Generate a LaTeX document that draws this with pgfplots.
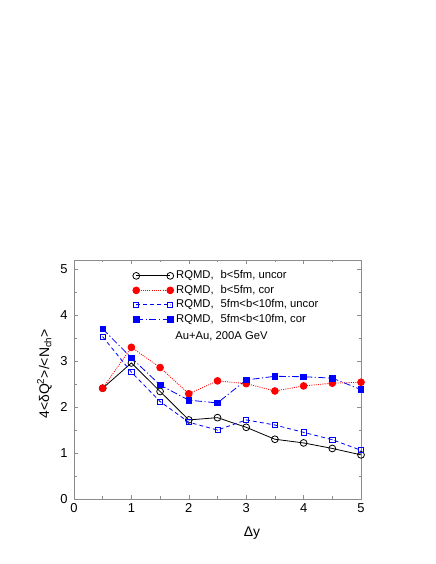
\documentclass[border=0pt]{standalone}
\usepackage{fontspec}
\setmainfont{Liberation Sans}
\usepackage{pgfplots}
\pgfplotsset{compat=1.18}
\usepackage{pgfplotstable}

\definecolor{framegray}{gray}{0.55}

% open square with a dot at its centre
\pgfdeclareplotmark{sqdot}{%
  \pgfpathrectangle{\pgfpoint{-\pgfplotmarksize}{-\pgfplotmarksize}}{\pgfpoint{2\pgfplotmarksize}{2\pgfplotmarksize}}%
  \pgfusepathqstroke
  \pgfpathcircle{\pgfpointorigin}{0.45pt}%
  \pgfusepathqfill}

\newcommand{\gap}{\hspace{7bp}}

\pgfplotstableread{
dy   uncor cor
0.5  2.41  2.41
1.0  2.96  3.30
1.5  2.34  2.86
2.0  1.72  2.29
2.5  1.77  2.57
3.0  1.56  2.51
3.5  1.30  2.35
4.0  1.22  2.46
4.5  1.10  2.52
5.0  0.96  2.54
}\centraldata

\pgfplotstableread{
dy   uncor cor
0.5  3.53  3.70
1.0  2.76  3.07
1.5  2.12  2.48
2.0  1.67  2.15
2.5  1.50  2.09
3.0  1.72  2.59
3.5  1.61  2.67
4.0  1.45  2.66
4.5  1.29  2.63
5.0  1.06  2.38
}\peripheraldata

\begin{document}
\begin{tikzpicture}[x=1bp,y=1bp]
\path[use as bounding box] (0,0) rectangle (436,564);
\begin{axis}[
  at={(74bp,65bp)}, anchor=south west,
  scale only axis, width=287bp, height=239bp,
  xmin=0, xmax=5, ymin=0, ymax=5.2,
  xtick={0,1,2,3,4,5}, ytick={0,1,2,3,4,5},
  minor x tick num=1, minor y tick num=1,
  tick align=inside,
  axis line style={framegray, line width=0.6bp},
  every tick/.style={framegray, line width=0.6bp},
  major tick length=4bp, minor tick length=2.5bp,
  /pgf/number format/assume math mode=true,
  ticklabel style={font=\fontsize{13}{15}\selectfont},
  xticklabel style={yshift=-1bp},
  yticklabel style={xshift=-3bp},
  xlabel={Δy},
  ylabel={4<δQ\textsuperscript{2}>/<N\textsubscript{ch}>},
  xlabel style={font=\fontsize{14}{16}\selectfont, at={(axis description cs:0.62,-0.142)}, anchor=center},
  ylabel style={font=\fontsize{14}{16}\selectfont, at={(axis description cs:-0.103,0.524)}, anchor=center},
  legend image code/.code={\draw[#1] plot coordinates {(0bp,0bp) (34bp,0bp)};},
  legend cell align=left,
  legend style={draw=none, fill=none, at={(axis cs:0.97,5.06)}, anchor=north west,
    font=\fontsize{11.3}{13}\selectfont,
    nodes={font=\fontsize{11.3}{13}\selectfont, inner sep=2.5bp, text height=7.5bp, text depth=2bp}},
]
\addplot[black, line width=0.8bp, mark=o, mark size=3.4bp]
  table[x=dy, y=uncor] {\centraldata};
\addlegendentry{RQMD,\gap b<5fm, uncor}
\addplot[red, dash pattern=on 1bp off 1.2bp, line width=0.8bp, mark=*, mark size=3.4bp, mark options={solid}]
  table[x=dy, y=cor] {\centraldata};
\addlegendentry{RQMD,\gap b<5fm, cor}
\addplot[blue, dash pattern=on 4bp off 3bp, line width=0.8bp, mark=sqdot, mark size=2.6bp, mark options={solid}]
  table[x=dy, y=uncor] {\peripheraldata};
\addlegendentry{RQMD,\gap 5fm<b<10fm, uncor}
\addplot[blue, dash pattern=on 7bp off 2.5bp on 1.2bp off 2.5bp, line width=0.8bp, mark=square*, mark size=2.8bp, mark options={solid}]
  table[x=dy, y=cor] {\peripheraldata};
\addlegendentry{RQMD,\gap 5fm<b<10fm, cor}
\node[font=\fontsize{11.3}{13}\selectfont] at (axis cs:2.57,3.53) {Au+Au, 200A GeV};
\end{axis}
\end{tikzpicture}
\end{document}
